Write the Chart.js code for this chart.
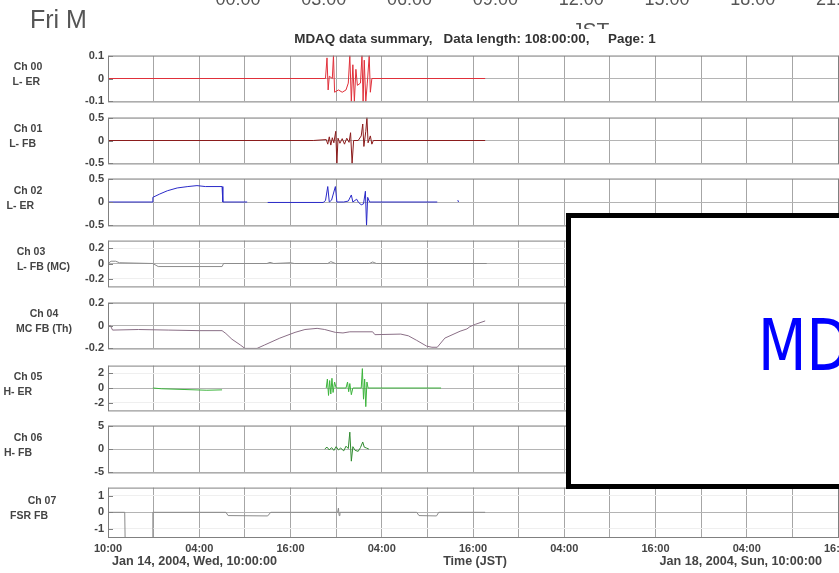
<!DOCTYPE html>
<html>
<head>
<meta charset="utf-8">
<script src="https://cdn.jsdelivr.net/npm/chart.js@4.4.1/dist/chart.umd.min.js"></script>
<style>
  html, body { margin: 0; padding: 0; background: #fff; }
  body { width: 839px; height: 573px; position: relative; overflow: hidden; font-family: "Liberation Sans", Arial, sans-serif; }
  .txt { position: absolute; white-space: pre; color: #444; }
  #charts { position: absolute; left: 0; top: 0; width: 860px; height: 573px; filter: blur(0.4px); }
  #overlay { position: absolute; left: 566px; top: 213px; width: 330px; height: 276px; box-sizing: border-box;
             border: 5px solid #000; background: #fff; }
  #big { position: absolute; left: 758px; top: 309px; font: 72px/72px "DejaVu Sans", sans-serif; color: #0000ff;
         transform: scaleX(0.78); transform-origin: left top; white-space: pre; }
</style>
</head>
<body>
<div id="charts"></div>
<div class="txt" style="left:30px;top:6.5px;font:25px/25px 'Liberation Sans',Arial,sans-serif;color:#555">Fri M</div>
<div id="toprow"></div>
<div style="position:absolute;left:560px;top:0;width:60px;height:29px;overflow:hidden">
  <div class="txt" style="left:12px;top:19px;font:21px/21px 'Liberation Sans',Arial,sans-serif;color:#555">JST</div>
</div>
<div class="txt" id="title" style="left:0;width:950px;text-align:center;top:32.4px;font:bold 13.4px/14px 'Liberation Sans',Arial,sans-serif;color:#333">MDAQ data summary,   Data length: 108:00:00,     Page: 1</div>
<div class="txt" style="left:112px;top:555px;font:bold 12.6px/12px 'Liberation Sans',Arial,sans-serif">Jan 14, 2004, Wed, 10:00:00</div>
<div class="txt" style="left:0;width:950px;text-align:center;top:555px;font:bold 12.5px/12px 'Liberation Sans',Arial,sans-serif">Time (JST)</div>
<div class="txt" style="right:17px;top:555px;font:bold 12.6px/12px 'Liberation Sans',Arial,sans-serif">Jan 18, 2004, Sun, 10:00:00</div>
<div id="overlay"></div>
<div id="big">MDAQ</div>
<script>
// time axis: hours since start, grid every 6 h, labels every 12 h
const HOUR_TICK_LABELS = ["10:00", "04:00", "16:00", "04:00", "16:00", "04:00", "16:00", "04:00", "16:00"];
const TOP_TIME_LABELS = ["00:00", "03:00", "06:00", "09:00", "12:00", "15:00", "18:00", "21:00"];

const CH_NAMES = ["Ch 00", "Ch 01", "Ch 02", "Ch 03", "Ch 04", "Ch 05", "Ch 06", "Ch 07"];
const CH_DESC = ["L- ER", "L- FB", "L- ER", "L- FB (MC)", "MC FB (Th)", "H- ER", "H- FB", "FSR FB"];
const Y_MIN = [-0.1, -0.5, -0.5, -0.3, -0.2, -3, -5, -1.5];
const Y_MAX = [0.1, 0.5, 0.5, 0.3, 0.2, 3, 5, 1.5];
const Y_TICKS = [[-0.1, 0, 0.1], [-0.5, 0, 0.5], [-0.5, 0, 0.5], [-0.2, 0, 0.2],
                 [-0.2, 0, 0.2], [-2, 0, 2], [-5, 0, 5], [-1, 0, 1]];

// [hour, value]
const ch00 = [[0,0],[28.6,0],[28.8,0.09],[28.95,-0.05],[29.1,0.01],[29.5,0],[29.65,0.1],[29.8,-0.06],[30.3,-0.05],
  [30.8,-0.06],[31.3,-0.05],[31.6,-0.02],[31.8,0.1],[32.0,-0.1],[32.2,0.06],[32.4,-0.1],[32.6,0.04],[32.8,-0.03],
  [33.2,-0.02],[33.4,0.1],[33.55,-0.1],[33.7,0.08],[33.9,-0.1],[34.1,-0.02],[34.35,0.1],[34.5,-0.06],[34.7,0],[49.6,0]];
const ch01 = [[0,0],[27.0,0],[28.7,0.02],[28.9,-0.08],[29.1,0.08],[29.3,-0.1],[29.5,0.06],[29.7,-0.05],[29.95,0.2],
  [30.1,-0.5],[30.25,0.05],[30.5,-0.06],[30.8,0.04],[31.1,-0.08],[31.4,0.05],[31.7,-0.04],[31.9,0.17],[32.1,-0.5],
  [32.3,0],[32.9,0],[33.3,0.1],[33.5,0.36],[33.65,-0.13],[33.9,0.2],[34.05,0.5],[34.2,-0.05],[34.5,0.1],[34.7,-0.08],
  [34.9,0],[49.6,0]];
const ch02 = [[0,0],[5.8,0],[5.9,0.1],[6.8,0.17],[7.8,0.24],[9.1,0.3],[10.5,0.33],[11.7,0.35],[12.8,0.33],[15.0,0.33],
  [15.1,0],[18.3,0],[18.4,null],[20.9,null],[21.0,-0.01],[28.3,-0.01],[28.6,0.03],[28.9,0.33],[29.1,0],[29.4,0.04],
  [29.9,0.33],[30.1,0],[31.0,0],[31.6,0.02],[32.0,0.15],[32.2,0],[32.7,0.06],[32.9,0],[33.3,-0.06],[33.6,-0.04],
  [33.85,0.23],[34.0,-0.5],[34.15,0.1],[34.4,0],[43.3,0],[43.4,null],[45.9,null],[46.0,0.04],[46.1,0]];
const ch03 = [[0,0],[0.4,0.03],[1.0,0.03],[1.5,0.01],[5.9,0],[6.6,-0.04],[15.0,-0.04],[15.2,0],[20.9,0],[21.3,0.015],
  [21.8,0],[24.0,0.01],[24.5,0],[28.9,0],[29.3,0.025],[29.9,0],[34.4,0],[34.8,0.02],[35.3,0],[49.8,0]];
const ch04 = [[0,-0.01],[0.3,0],[0.6,-0.04],[4.0,-0.035],[8.0,-0.04],[12.0,-0.045],[15.0,-0.045],[15.5,-0.07],
  [16.3,-0.12],[17.4,-0.17],[18.0,-0.2],[19.6,-0.2],[20.6,-0.17],[22.6,-0.11],[24.6,-0.06],[25.9,-0.035],[27.5,-0.025],
  [28.5,-0.035],[29.9,-0.06],[30.9,-0.065],[31.8,-0.055],[34.8,-0.055],[35.1,-0.08],[38.5,-0.075],[39.5,-0.09],
  [40.6,-0.13],[41.9,-0.18],[42.6,-0.19],[43.3,-0.19],[44.3,-0.11],[46.3,-0.05],[47.2,-0.03],[47.6,-0.01],[48.3,0.01],[49.6,0.04]];
const ch05 = [[5.9,0],[7.0,-0.1],[10.0,-0.2],[13.0,-0.3],[15.0,-0.25],[15.1,null],[28.6,null],[28.7,0],[28.85,1.2],
  [29.0,-1.0],[29.15,1.0],[29.3,-0.8],[29.45,1.3],[29.6,-0.6],[29.8,0.8],[30.0,0],[31.3,0],[31.5,0.8],[31.65,-0.5],
  [31.8,0.6],[32.0,-0.9],[32.2,0],[33.3,0],[33.45,2.6],[33.6,-1.5],[33.75,1.2],[33.9,-2.5],[34.05,0.8],[34.2,0],[43.8,0]];
const ch06 = [[28.5,0],[28.8,0.4],[29.1,-0.2],[29.4,0.3],[29.7,-0.3],[30.0,0.5],[30.3,-0.2],[30.6,0.2],[31.0,-0.4],
  [31.3,0.6],[31.6,0.1],[31.8,3.6],[32.0,-2.6],[32.2,0.5],[32.5,-0.3],[32.9,-0.5],[33.2,0.3],[33.5,1.5],[33.7,0.4],
  [34.0,0.2],[34.3,0]];
const ch07 = [[0,0],[2.2,0],[2.25,-1.6],[5.85,-1.6],[5.9,0],[15.5,0],[15.8,-0.2],[21.0,-0.22],[21.4,0],[30.2,0],
  [30.3,0.25],[30.4,-0.2],[30.5,0],[40.6,0],[40.9,-0.2],[43.2,-0.22],[43.5,0],[49.6,0]];

const SERIES = [ch00, ch01, ch02, ch03, ch04, ch05, ch06, ch07];
const COLORS = ["#e0303a", "#8b1c1c", "#2a2ac8", "#8c8c8c", "#8a6f86", "#3cb43c", "#2f8a2f", "#8a8a8a"];

// layout (pixels)
const PANEL_TOP = [53, 115, 176, 238, 300, 363, 423, 485];
const PANEL_BOTTOM = [104, 166, 228, 289, 351, 413, 475, 537];
const NAME_X = [28, 28, 28, 31, 44, 28, 28, 42];
const DESC_RIGHT = [40, 36, 34, 70, 72, 32, 32, 48];

// top row of clipped clock labels
const toprow = document.getElementById('toprow');
TOP_TIME_LABELS.forEach((t, i) => {
  const d = document.createElement('div');
  d.className = 'txt';
  d.style.cssText = `left:${238 + i * 85.8 - 30}px;width:60px;text-align:center;top:-10.5px;font:18px/18px 'Liberation Sans',Arial,sans-serif;color:#555`;
  d.textContent = t;
  toprow.appendChild(d);
});

const panelDecor = {
  id: 'panelDecor',
  afterDraw(chart, args, opts) {
    const { ctx, chartArea: a } = chart;
    const ys = chart.scales.y;
    ctx.save();
    ctx.strokeStyle = '#808080';
    ctx.lineWidth = 1;
    ys.ticks.forEach(t => {
      const y = Math.round(ys.getPixelForValue(t.value)) + 0.5;
      ctx.beginPath();
      ctx.moveTo(a.left, y);
      ctx.lineTo(a.left + 5, y);
      ctx.stroke();
    });
    ctx.strokeRect(a.left + 0.5, a.top + 0.5, a.right - a.left, a.bottom - a.top);
    ctx.fillStyle = '#444';
    ctx.font = 'bold 10.5px "Liberation Sans", Arial, sans-serif';
    ctx.textBaseline = 'middle';
    const mid = (a.top + a.bottom) / 2;
    ctx.textAlign = 'center';
    ctx.fillText(opts.name, opts.nameX, mid - 11);
    ctx.textAlign = 'right';
    ctx.fillText(opts.desc, opts.descRight, mid + 4);
    ctx.restore();
  }
};

const wrap = document.getElementById('charts');
SERIES.forEach((pts, i) => {
  const last = i === SERIES.length - 1;
  const top = PANEL_TOP[i] - 8;
  const h = PANEL_BOTTOM[i] - PANEL_TOP[i] + (last ? 38 : 16);
  const cv = document.createElement('canvas');
  cv.width = 860;
  cv.height = h;
  cv.style.cssText = `position:absolute;left:0;top:${top}px;width:860px;height:${h}px`;
  wrap.appendChild(cv);

  new Chart(cv, {
    type: 'line',
    data: {
      datasets: [{
        data: pts.map(p => ({ x: p[0], y: p[1] })),
        borderColor: COLORS[i],
        borderWidth: 1,
        pointRadius: 0,
        tension: 0,
        spanGaps: false
      }]
    },
    options: {
      responsive: false,
      animation: false,
      layout: { padding: { top: 8, bottom: last ? 10 : 8, left: 0, right: 22 } },
      plugins: {
        legend: { display: false },
        tooltip: { enabled: false },
        panelDecor: { name: CH_NAMES[i], desc: CH_DESC[i], nameX: NAME_X[i], descRight: DESC_RIGHT[i] }
      },
      scales: {
        x: {
          type: 'linear', min: 0, max: 96,
          ticks: {
            display: last, stepSize: 6, autoSkip: false, maxRotation: 0, padding: 5,
            color: '#444', font: { family: '"Liberation Sans", Arial, sans-serif', size: 11, weight: 'bold' },
            callback: v => (v % 12 === 0 ? HOUR_TICK_LABELS[v / 12] : '')
          },
          grid: { color: '#a6a6a6', drawTicks: false },
          border: { display: false },
          afterFit: s => { s.height = last ? 20 : 0; }
        },
        y: {
          min: Y_MIN[i], max: Y_MAX[i],
          afterBuildTicks: s => { s.ticks = Y_TICKS[i].map(v => ({ value: v })); },
          ticks: {
            padding: 4, color: '#444',
            font: { family: '"Liberation Sans", Arial, sans-serif', size: 11, weight: 'bold' },
            callback: v => String(v)
          },
          grid: { drawTicks: false, color: c => (c.tick && c.tick.value === 0 ? '#b4b4b4' : '#efefef') },
          border: { display: false },
          afterFit: s => { s.width = 108; }
        }
      }
    },
    plugins: [panelDecor]
  });
});
</script>
</body>
</html>
